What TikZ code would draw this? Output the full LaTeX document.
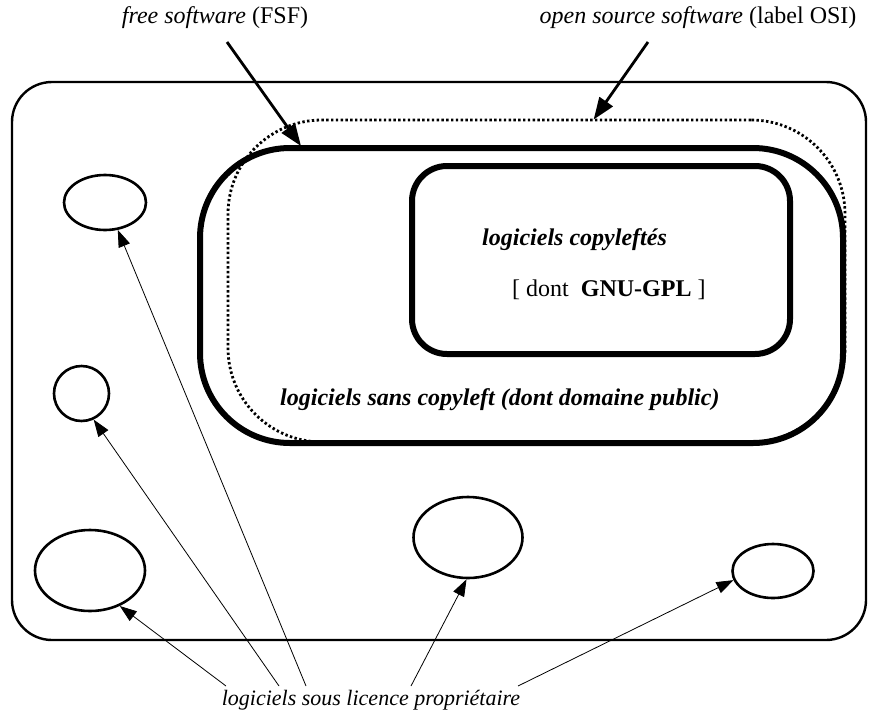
\documentclass[tikz,border=0pt]{standalone}
\usepackage{fontspec}
\setmainfont{Liberation Serif}
\usetikzlibrary{arrows.meta,shapes.geometric}
\begin{document}
\begin{tikzpicture}[x=1pt,y=-1pt,
  lbl/.style={inner sep=0pt,font=\fontsize{24}{28}\selectfont},
  blbl/.style={inner sep=0pt,font=\fontsize{24}{28}\selectfont\bfseries\itshape},
  oval/.style={draw,ellipse,line width=2.6pt,inner sep=0pt},
  bigbox/.style={draw,rectangle,line width=6pt,inner sep=0pt},
  thickarrow/.style={line width=2.8pt,-{Triangle[length=22pt,width=16pt]}},
  thinarrow/.style={line width=0.8pt,-{Triangle[length=17pt,width=12pt]}}]
\useasboundingbox (0,0) rectangle (877,720);
% outer box
\node[draw,rectangle,rounded corners=40pt,line width=2.4pt,minimum width=854pt,minimum height=558pt,inner sep=0pt] (outer) at (439,361) {};
% open source (dotted)
\node[draw,rectangle,rounded corners=94pt,line width=2.8pt,dash pattern=on 2.4pt off 2.4pt,minimum width=617pt,minimum height=322pt,inner sep=0pt] (osi) at (536.5,281) {};
% free software box
\node[bigbox,rounded corners=90pt,minimum width=643pt,minimum height=295pt] (fsf) at (521.5,295.5) {};
% copyleft box
\node[bigbox,rounded corners=35pt,minimum width=378pt,minimum height=188pt] (cl) at (601,260) {};
% texts
\node[blbl,anchor=west] (tcl) at (482,240) {logiciels copyleftés};
\node[lbl,anchor=west] (tgpl) at (512,290) {[ dont\ \ \textbf{GNU-GPL} ]};
\node[blbl,anchor=west] (tsans) at (280,400) {logiciels sans copyleft (dont domaine public)};
\node[lbl] (tfsf) at (215,18) {\textit{free software} (FSF)};
\node[lbl] (tosi) at (698,18) {\textit{open source software} (label OSI)};
\node[lbl,font=\fontsize{22}{26}\selectfont\itshape] (tprop) at (371,700) {logiciels sous licence propriétaire};
% ellipses
\node[oval,minimum width=82pt,minimum height=55pt] (e1) at (105,202.5) {};
\node[oval,minimum width=55pt,minimum height=55pt] (e2) at (81.5,393.5) {};
\node[oval,minimum width=110pt,minimum height=81pt] (e3) at (90,570.5) {};
\node[oval,minimum width=109pt,minimum height=81pt] (e4) at (468,537.5) {};
\node[oval,minimum width=81pt,minimum height=54pt] (e5) at (773,571) {};
% arrow start points
\coordinate (a1) at (227,42);
\coordinate (a2) at (648,42);
\coordinate (s1) at (226,686);
\coordinate (s2) at (279,686);
\coordinate (s3) at (306,686);
\coordinate (s4) at (411,686);
\coordinate (s5) at (518,686);
% thick arrows
\draw[thickarrow] (a1) -- ([xshift=104pt,yshift=-1pt]fsf.north west);
\draw[thickarrow] (a2) -- ([xshift=367pt,yshift=-1pt]osi.north west);
% thin arrows
\draw[thinarrow] (s1) -- (e3.-50);
\draw[thinarrow] (s2) -- (e2.-65);
\draw[thinarrow] (s3) -- (e1.-65);
\draw[thinarrow] (s4) -- (e4.-92);
\draw[thinarrow] (s5) -- (e5.193);
\end{tikzpicture}
\end{document}
